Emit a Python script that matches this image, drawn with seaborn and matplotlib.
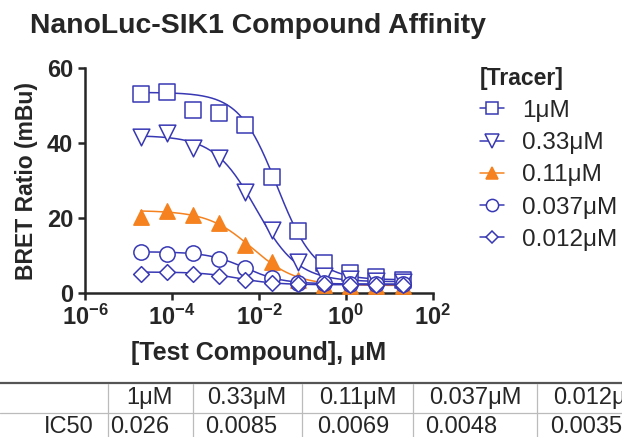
import matplotlib
matplotlib.use("Agg")
import matplotlib.pyplot as plt
import seaborn as sns
import numpy as np
import pandas as pd
from matplotlib.lines import Line2D
from matplotlib.ticker import FixedLocator, FuncFormatter

# test compound concentrations (uM), 4-fold dilution series
conc = [1.9e-5, 7.6e-5, 3.05e-4, 1.22e-3, 4.88e-3, 0.0195, 0.078, 0.3125, 1.25, 5.0, 20.0]

tracers = ["1\u03bcM", "0.33\u03bcM", "0.11\u03bcM", "0.037\u03bcM", "0.012\u03bcM"]
bret_1 = [53.2, 53.7, 48.8, 48.1, 44.8, 31.0, 16.5, 7.9, 5.4, 4.4, 3.6]
bret_033 = [41.5, 42.6, 38.6, 35.9, 27.0, 16.8, 8.2, 4.6, 3.8, 3.3, 3.0]
bret_011 = [20.4, 21.9, 20.8, 18.8, 12.8, 8.2, 3.5, 2.1, 2.0, 2.0, 2.0]
bret_0037 = [11.0, 10.3, 10.6, 9.1, 6.6, 3.9, 2.6, 2.6, 2.5, 2.4, 2.4]
bret_0012 = [5.1, 5.7, 5.0, 4.5, 3.5, 2.6, 2.3, 2.3, 2.2, 2.2, 2.2]

# fitted 4PL parameters (IC50 from the table)
ic50 = [0.026, 0.0085, 0.0069, 0.0048, 0.0035]
fit_top = [53.5, 42.0, 22.0, 11.0, 5.6]
fit_bottom = [3.5, 3.0, 2.0, 2.4, 2.2]
fit_hill = [1.0, 0.9, 0.85, 1.0, 1.0]
ic50_labels = ["0.026", "0.0085", "0.0069", "0.0048", "0.0035"]

series = [bret_1, bret_033, bret_011, bret_0037, bret_0012]
blue = "#3838b4"
orange = "#f5821f"
colors = [blue, blue, orange, blue, blue]
markers = ["s", "v", "^", "o", "D"]
msizes = [11, 12, 11, 11, 8]
filled = [False, False, True, False, False]

rows = []
for lab, vals in zip(tracers, series):
    for c, v in zip(conc, vals):
        rows.append({"tracer": lab, "conc": c, "bret": v})
df = pd.DataFrame(rows)

curve_rows = []
xs = np.logspace(np.log10(conc[0]), np.log10(conc[-1]), 200)
for lab, ic, top, bot, h in zip(tracers, ic50, fit_top, fit_bottom, fit_hill):
    ys = bot + (top - bot) / (1 + (xs / ic) ** h)
    for x, y in zip(xs, ys):
        curve_rows.append({"tracer": lab, "conc": x, "bret": y})
curves = pd.DataFrame(curve_rows)

sns.set_style("ticks")
plt.rcParams["font.family"] = ["Liberation Sans", "DejaVu Sans"]
plt.rcParams["mathtext.fontset"] = "custom"
plt.rcParams["mathtext.bf"] = "Liberation Sans:bold"
plt.rcParams["mathtext.rm"] = "Liberation Sans"

fig = plt.figure(figsize=(6.22, 4.37), dpi=100)
ax = fig.add_axes([85 / 622, 1 - 293 / 437, 348 / 622, 225 / 437])

sns.lineplot(data=curves, x="conc", y="bret", hue="tracer", palette=dict(zip(tracers, colors)),
             hue_order=tracers, linewidth=1.1, legend=False, ax=ax)
for lab, col, m, ms, f in zip(tracers, colors, markers, msizes, filled):
    sub = df[df["tracer"] == lab]
    sns.scatterplot(data=sub, x="conc", y="bret", marker=m, s=ms ** 2,
                    facecolor=col if f else "white", edgecolor=col, linewidth=1.1,
                    ax=ax, legend=False, clip_on=False, zorder=3)

ax.set_xscale("log")
ax.set_xlim(1e-6, 1e2)
ax.set_ylim(0, 60)
ax.xaxis.set_major_locator(FixedLocator([1e-6, 1e-4, 1e-2, 1e0, 1e2]))
ax.xaxis.set_minor_locator(FixedLocator([]))
ax.xaxis.set_major_formatter(FuncFormatter(lambda v, p: r"$\mathbf{10^{%d}}$" % round(np.log10(v))))
ax.set_yticks([0, 20, 40, 60])
sns.despine(ax=ax)
for s in ["left", "bottom"]:
    ax.spines[s].set_linewidth(1.8)
ax.tick_params(width=1.8, length=5, labelsize=17)
for t in ax.get_yticklabels():
    t.set_fontweight("bold")
ax.set_xlabel("[Test Compound], \u03bcM", fontsize=18, fontweight="bold", labelpad=8)
ax.set_ylabel("BRET Ratio (mBu)", fontsize=16.5, fontweight="bold", labelpad=6)

fig.text(30 / 622, 1 - 33 / 437, "NanoLuc-SIK1 Compound Affinity", fontsize=20.4,
         fontweight="bold", va="baseline")

handles = [Line2D([0], [0], color=c, marker=m, markersize=ms * 0.8, linewidth=1.1,
                  markerfacecolor=c if f else "white", markeredgecolor=c, markeredgewidth=1.1)
           for c, m, ms, f in zip(colors, markers, msizes, filled)]
leg = ax.legend(handles, tracers, loc="upper left", bbox_to_anchor=(470 / 622, 1 - 57 / 437),
                bbox_transform=fig.transFigure, frameon=False, fontsize=17.5, title="[Tracer]",
                title_fontproperties={"weight": "bold", "size": 16.5}, handlelength=1.0,
                handletextpad=0.75, labelspacing=0.42, borderaxespad=0)
leg._legend_box.align = "left"

# IC50 table
def fx(px):
    return px / 622

def fy(py):
    return 1 - py / 437

fig.add_artist(Line2D([0, 1], [fy(383), fy(383)], color="#555555", linewidth=1.6))
fig.add_artist(Line2D([0, 1], [fy(413), fy(413)], color="#bbbbbb", linewidth=0.9))
for vx in [108, 193, 302, 413, 537]:
    fig.add_artist(Line2D([fx(vx), fx(vx)], [fy(384), fy(437)], color="#bbbbbb", linewidth=0.9))
head_x = [149, 247, 358, 475, 599]
val_x = [110, 205, 317, 425, 550]
for hx, lab in zip(head_x, tracers):
    fig.text(fx(hx), fy(398), lab, fontsize=17, ha="center", va="center")
for vx, lab in zip(val_x, ic50_labels):
    fig.text(fx(vx), fy(427), lab, fontsize=17, ha="left", va="center")
fig.text(fx(94), fy(427), "IC50", fontsize=17, ha="right", va="center")

fig.savefig("out.png", dpi=100)
